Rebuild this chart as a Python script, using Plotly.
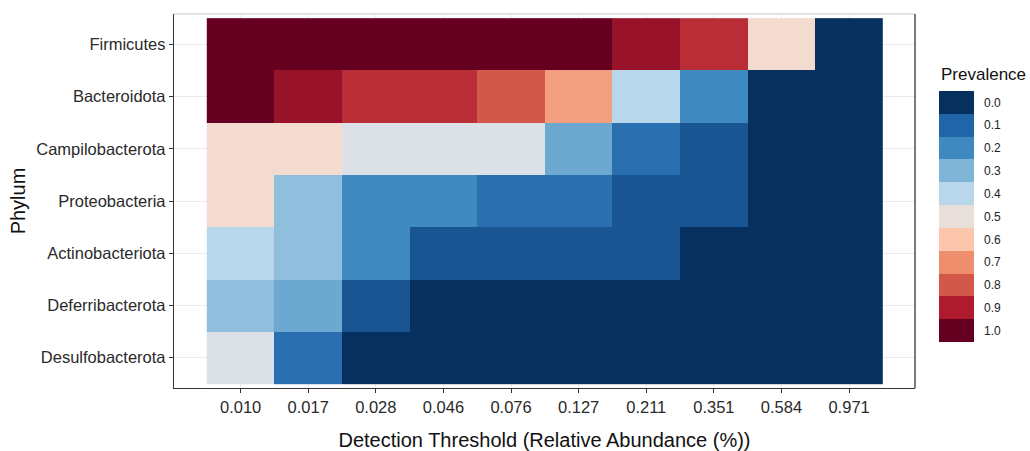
import plotly.graph_objects as go

# Detection thresholds (relative abundance, %) and phyla
detections = ["0.010", "0.017", "0.028", "0.046", "0.076",
              "0.127", "0.211", "0.351", "0.584", "0.971"]
phyla = ["Firmicutes", "Bacteroidota", "Campilobacterota", "Proteobacteria",
         "Actinobacteriota", "Deferribacterota", "Desulfobacterota"]

# Prevalence of each phylum at each detection threshold
firmicutes = [1.0, 1.0, 1.0, 1.0, 1.0, 1.0, 0.93, 0.87, 0.53, 0.0]
bacteroidota = [1.0, 0.93, 0.87, 0.87, 0.80, 0.67, 0.40, 0.20, 0.0, 0.0]
campilobacterota = [0.53, 0.53, 0.47, 0.47, 0.47, 0.27, 0.13, 0.07, 0.0, 0.0]
proteobacteria = [0.53, 0.33, 0.20, 0.20, 0.13, 0.13, 0.07, 0.07, 0.0, 0.0]
actinobacteriota = [0.40, 0.33, 0.20, 0.07, 0.07, 0.07, 0.07, 0.0, 0.0, 0.0]
deferribacterota = [0.33, 0.27, 0.07, 0.0, 0.0, 0.0, 0.0, 0.0, 0.0, 0.0]
desulfobacterota = [0.47, 0.13, 0.0, 0.0, 0.0, 0.0, 0.0, 0.0, 0.0, 0.0]

# Legend breaks
breaks = [0.0, 0.1, 0.2, 0.3, 0.4, 0.5, 0.6, 0.7, 0.8, 0.9, 1.0]
break_labels = ["0.0", "0.1", "0.2", "0.3", "0.4", "0.5",
                "0.6", "0.7", "0.8", "0.9", "1.0"]

# Reversed red-blue palette (stop position, colour)
palette_stops = [0.0, 0.1, 0.2, 0.3, 0.4, 0.465, 0.5, 0.535, 0.6, 0.7, 0.8, 0.9, 1.0]
palette_colors = ["#08305e", "#2165a9", "#3e89c0", "#7fb5d7", "#b9d7ea",
                  "#d9e1e8", "#e8deda", "#f5dccd", "#fcc6ac", "#ee8e6d",
                  "#d2594a", "#ae1a2e", "#650020"]
colorscale = [[s, c] for s, c in zip(palette_stops, palette_colors)]

z = [firmicutes, bacteroidota, campilobacterota, proteobacteria,
     actinobacteriota, deferribacterota, desulfobacterota]

W, H = 1030, 451
ML, MR, MT, MB = 174, 0, 14, 63
PW = W - ML - MR
PH = H - MT - MB


def px_x(p):
    return (p - ML) / PW


def px_y(p):
    return 1 - (p - MT) / PH


main_right = px_x(915)
font = "Liberation Sans, Arial, sans-serif"

fig = go.Figure()
fig.add_trace(go.Heatmap(
    z=z, x=detections, y=phyla, colorscale=colorscale, zmin=0, zmax=1,
    showscale=False, xaxis="x", yaxis="y",
    hovertemplate="%{y}<br>%{x}: %{z}<extra></extra>"))

fig.add_trace(go.Heatmap(
    z=[[b] for b in breaks], x=[0], y=break_labels, colorscale=colorscale,
    zmin=0, zmax=1, showscale=False, xaxis="x2", yaxis="y2",
    hoverinfo="skip"))

grid = "#ebebeb"
axis_col = "#333333"

fig.update_layout(
    width=W, height=H,
    margin=dict(l=ML, r=MR, t=MT, b=MB),
    paper_bgcolor="white", plot_bgcolor="white",
    font=dict(family=font, color="#222222"),
    xaxis=dict(
        domain=[0, main_right], type="category", range=[-0.985, 9.975],
        showgrid=True, gridcolor=grid, gridwidth=1,
        showline=True, linecolor=axis_col, linewidth=1.3,
        ticks="outside", ticklen=4, tickcolor=axis_col, tickwidth=1,
        tickfont=dict(size=16.5, color="#2a2a2a"),
        title=dict(text="Detection Threshold (Relative Abundance (%))",
                   font=dict(size=20, color="#111111"), standoff=20),
        zeroline=False, fixedrange=True),
    yaxis=dict(
        domain=[0, 1], type="category", range=[6.58, -0.58],
        showgrid=True, gridcolor=grid, gridwidth=1,
        showline=True, linecolor=axis_col, linewidth=1.3,
        ticks="outside", ticklen=4, tickcolor=axis_col, tickwidth=1,
        tickfont=dict(size=16.5, color="#2a2a2a"),
        title=dict(text="Phylum", font=dict(size=20, color="#111111"),
                   standoff=5),
        zeroline=False, fixedrange=True),
    xaxis2=dict(domain=[px_x(939), px_x(974)], anchor="y2", visible=False,
                range=[-0.5, 0.5], fixedrange=True),
    yaxis2=dict(domain=[px_y(342), px_y(91)], anchor="x2", type="category",
                range=[10.5, -0.5], side="right", showgrid=False,
                showline=False, ticks="", ticklabelstandoff=9,
                tickfont=dict(size=12, color="#222222"),
                zeroline=False, fixedrange=True),
    annotations=[dict(
        text="Prevalence", xref="paper", yref="paper",
        x=px_x(939), y=px_y(74), xanchor="left", yanchor="middle",
        showarrow=False, font=dict(size=17, color="#111111"))],
    shapes=[
        # top border of the panel
        dict(type="line", xref="paper", yref="paper",
             x0=0, x1=main_right, y0=1, y1=1,
             line=dict(color="#d9d9d9", width=1.3)),
        # right border of the panel
        dict(type="line", xref="paper", yref="paper",
             x0=main_right, x1=main_right, y0=0, y1=1,
             line=dict(color=axis_col, width=1.3)),
    ],
)

fig.write_html("out.html")
